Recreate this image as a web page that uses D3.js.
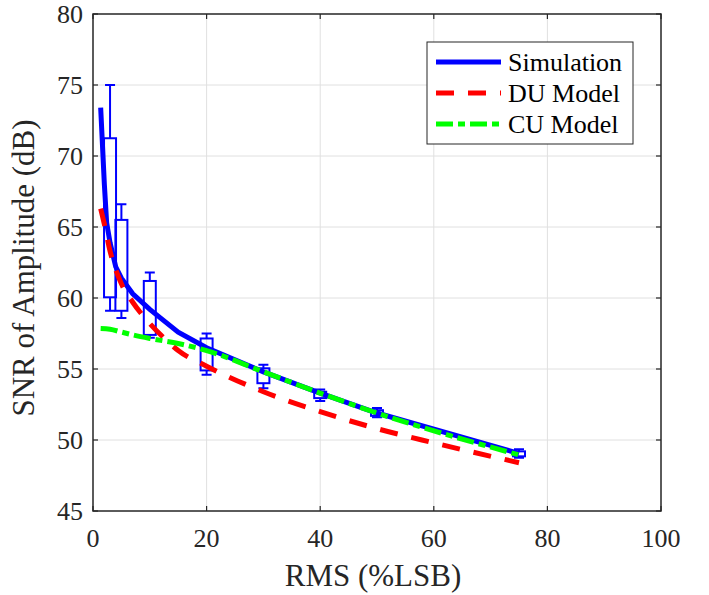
<!DOCTYPE html>
<html>
<head>
<meta charset="utf-8">
<script src="https://cdn.jsdelivr.net/npm/d3@7"></script>
<style>
  body { margin: 0; background: #fff; }
</style>
</head>
<body>
<div id="viz"></div>
<script>
// simulation curve (blue)
const simX = [1.35, 2, 2.4, 3, 4, 5, 7, 10, 15, 20, 30, 40, 50, 75];
const simY = [73.4, 68.0, 65.3, 63.9, 62.2, 61.4, 60.3, 59.2, 57.6, 56.5, 54.8, 53.3, 51.9, 49.05];

// DU model (red dashed)
const duX = [1.35, 2, 3, 4, 5, 7, 10, 13, 15, 20, 30, 40, 50, 60, 75];
const duY = [66.3, 65.2, 63.3, 62.0, 61.0, 59.7, 58.2, 57.0, 56.3, 55.2, 53.4, 52.0, 50.8, 49.8, 48.4];

// CU model (green dash-dot)
const cuX = [1.35, 3, 5, 7, 10, 15, 20, 30, 40, 50, 75];
const cuY = [57.85, 57.8, 57.6, 57.4, 57.15, 56.8, 56.3, 54.8, 53.3, 51.9, 48.95];

// box plots
const boxX = [3, 5, 10, 20, 30, 40, 50, 75];
const boxLo = [59.1, 58.6, 57.2, 54.6, 53.65, 52.75, 51.6, 48.75];
const boxQ1 = [60.05, 59.1, 57.4, 54.9, 54.0, 52.95, 51.7, 48.85];
const boxQ3 = [71.25, 65.5, 61.2, 57.15, 55.05, 53.4, 52.1, 49.2];
const boxHi = [75.0, 66.6, 61.8, 57.5, 55.3, 53.55, 52.25, 49.35];

const xTicks = [0, 20, 40, 60, 80, 100];
const yTicks = [45, 50, 55, 60, 65, 70, 75, 80];
const legendNames = ["Simulation", "DU Model", "CU Model"];

const W = 709, H = 595;
const L = 93, R = 661, T = 14, B = 511;
const axisCol = "#262626";
const FONT = "'Liberation Serif', 'Times New Roman', Times, 'DejaVu Serif', serif";

const svg = d3.select("#viz").append("svg").attr("width", W).attr("height", H)
  .style("font-family", FONT);

const x = d3.scaleLinear().domain([0, 100]).range([L, R]);
const y = d3.scaleLinear().domain([45, 80]).range([B, T]);

// grid
const grid = svg.append("g");
grid.selectAll(".gx").data(xTicks.slice(1, -1)).join("line")
  .attr("x1", d => x(d)).attr("x2", d => x(d)).attr("y1", T).attr("y2", B)
  .attr("stroke", "#e0e0e0").attr("stroke-width", 1);
grid.selectAll(".gy").data(yTicks.slice(1, -1)).join("line")
  .attr("class", "gy")
  .attr("y1", d => y(d)).attr("y2", d => y(d)).attr("x1", L).attr("x2", R)
  .attr("stroke", "#e0e0e0").attr("stroke-width", 1);

// boxes
const boxes = boxX.map((v, i) => ({ x: v, lo: boxLo[i], q1: boxQ1[i], q3: boxQ3[i], hi: boxHi[i] }));
const bw = 12, cw = 10;
const bg = svg.append("g").attr("stroke", "#0000ff").attr("stroke-width", 2).attr("fill", "none");
bg.selectAll("rect").data(boxes).join("rect")
  .attr("x", d => x(d.x) - bw / 2).attr("width", bw)
  .attr("y", d => y(d.q3)).attr("height", d => y(d.q1) - y(d.q3));
bg.selectAll(".wu").data(boxes).join("path")
  .attr("class", "wu")
  .attr("d", d => `M${x(d.x)},${y(d.q3)}V${y(d.hi)}M${x(d.x) - cw / 2},${y(d.hi)}H${x(d.x) + cw / 2}`);
bg.selectAll(".wl").data(boxes).join("path")
  .attr("class", "wl")
  .attr("d", d => `M${x(d.x)},${y(d.q1)}V${y(d.lo)}M${x(d.x) - cw / 2},${y(d.lo)}H${x(d.x) + cw / 2}`);

// lines
const styles = [
  { name: legendNames[0], color: "#0000ff", dash: null, curve: d3.curveLinear, pts: d3.zip(simX, simY) },
  { name: legendNames[1], color: "#ff0000", dash: "18,14", curve: d3.curveMonotoneX, pts: d3.zip(duX, duY) },
  { name: legendNames[2], color: "#00ff00", dash: "17,5,7,5", curve: d3.curveMonotoneX, pts: d3.zip(cuX, cuY) }
];
svg.append("g").selectAll("path").data(styles).join("path")
  .attr("d", d => d3.line().curve(d.curve).x(p => x(p[0])).y(p => y(p[1]))(d.pts))
  .attr("fill", "none")
  .attr("stroke", d => d.color)
  .attr("stroke-width", 5)
  .attr("stroke-dasharray", d => d.dash);

// axes box
svg.append("rect").attr("x", L).attr("y", T).attr("width", R - L).attr("height", B - T)
  .attr("fill", "none").attr("stroke", axisCol).attr("stroke-width", 1.5);

const tk = 5;
const tg = svg.append("g").attr("stroke", axisCol).attr("stroke-width", 1.2);
xTicks.forEach(v => {
  tg.append("line").attr("x1", x(v)).attr("x2", x(v)).attr("y1", B).attr("y2", B - tk);
  tg.append("line").attr("x1", x(v)).attr("x2", x(v)).attr("y1", T).attr("y2", T + tk);
});
yTicks.forEach(v => {
  tg.append("line").attr("y1", y(v)).attr("y2", y(v)).attr("x1", L).attr("x2", L + tk);
  tg.append("line").attr("y1", y(v)).attr("y2", y(v)).attr("x1", R).attr("x2", R - tk);
});

svg.append("g").selectAll("text").data(xTicks).join("text")
  .attr("x", d => x(d)).attr("y", B + 36)
  .attr("text-anchor", "middle").attr("font-size", 26)
  .attr("font-family", FONT).attr("fill", axisCol)
  .text(d => d);
svg.append("g").selectAll("text").data(yTicks).join("text")
  .attr("x", L - 10).attr("y", d => y(d) + 9)
  .attr("text-anchor", "end").attr("font-size", 26)
  .attr("font-family", FONT).attr("fill", axisCol)
  .text(d => d);

// axis labels
svg.append("text").attr("x", 373).attr("y", 586)
  .attr("text-anchor", "middle").attr("font-size", 31)
  .attr("font-family", FONT).attr("fill", axisCol)
  .text("RMS (%LSB)");
svg.append("text").attr("transform", "translate(34,268) rotate(-90)")
  .attr("text-anchor", "middle").attr("font-size", 31)
  .attr("font-family", FONT).attr("fill", axisCol)
  .text("SNR of Amplitude (dB)");

// legend
const lg = svg.append("g").attr("transform", "translate(427,42)");
lg.append("rect").attr("width", 206).attr("height", 102)
  .attr("fill", "#fff").attr("stroke", axisCol).attr("stroke-width", 1);
styles.forEach((s, i) => {
  const ry = 20 + i * 31;
  lg.append("line").attr("x1", 9).attr("x2", 74).attr("y1", ry).attr("y2", ry)
    .attr("stroke", s.color).attr("stroke-width", 5)
    .attr("stroke-dasharray", s.dash);
  lg.append("text").attr("x", 81).attr("y", ry + 9).attr("font-size", 26)
    .attr("font-family", FONT).attr("fill", "#000").text(s.name);
});
</script>
</body>
</html>
